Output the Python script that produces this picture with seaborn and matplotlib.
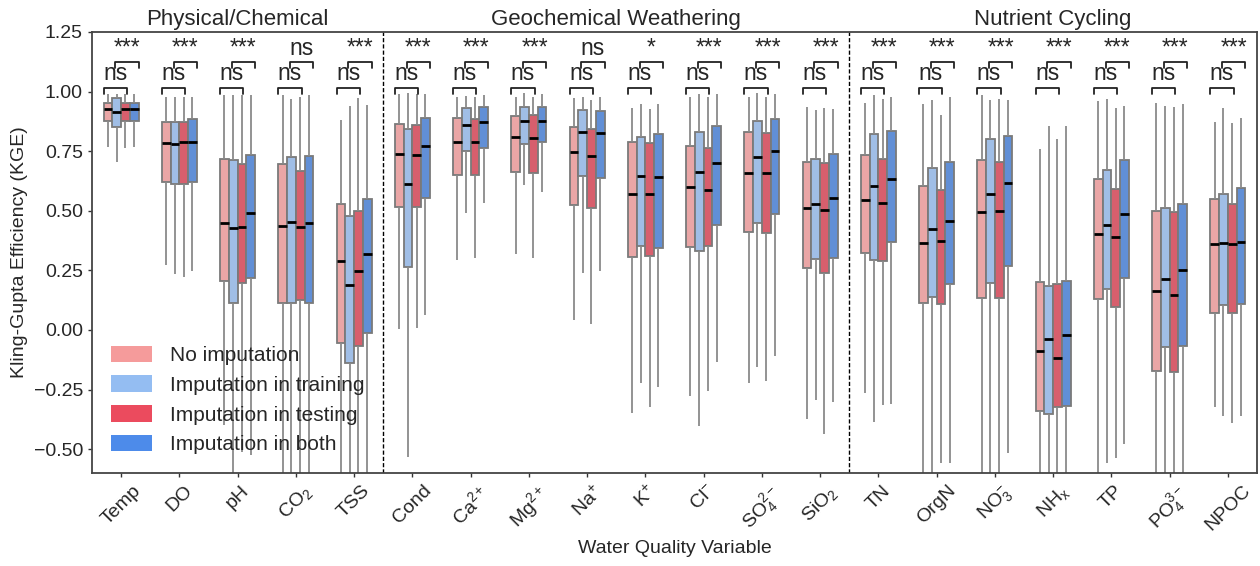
import numpy as np
import pandas as pd
import matplotlib
matplotlib.use("Agg")
import matplotlib.pyplot as plt
from matplotlib.patches import Patch
import seaborn as sns

VARIABLES = ["Temp", "DO", "pH", "CO$_2$", "TSS",
             "Cond", "Ca$^{2+}$", "Mg$^{2+}$", "Na$^{+}$", "K$^{+}$", "Cl$^{-}$", "SO$_4^{2-}$", "SiO$_2$",
             "TN", "OrgN", "NO$_3^{-}$", "NH$_x$", "TP", "PO$_4^{3-}$", "NPOC"]
METHODS = ["No imputation", "Imputation in training", "Imputation in testing", "Imputation in both"]
GROUPS = ["Physical/Chemical", "Geochemical Weathering", "Nutrient Cycling"]
GROUP_SIZES = [5, 8, 7]
COLORS = ["#F59B9B", "#94BDF2", "#EB4B5E", "#4D8BEA"]

# --- box statistics per method: whisker low, q1, median, q3, whisker high ---
NOIMP_LO  = [0.769, 0.273, -0.40, -0.70, -0.70, 0.005, 0.294, 0.317, 0.042, -0.349, -0.277, -0.221, -0.375, -0.266, -0.70, -0.70, -0.70, -0.70, -0.70, -0.324]
NOIMP_Q1  = [0.878, 0.622, 0.206, 0.114, -0.053, 0.516, 0.650, 0.664, 0.524, 0.307, 0.349, 0.410, 0.260, 0.323, 0.115, 0.136, -0.340, 0.130, -0.172, 0.073]
NOIMP_MED = [0.928, 0.786, 0.447, 0.436, 0.291, 0.740, 0.790, 0.811, 0.748, 0.570, 0.601, 0.660, 0.513, 0.545, 0.366, 0.496, -0.087, 0.403, 0.165, 0.359]
NOIMP_Q3  = [0.951, 0.874, 0.716, 0.695, 0.529, 0.864, 0.888, 0.898, 0.853, 0.790, 0.772, 0.832, 0.703, 0.733, 0.605, 0.713, 0.203, 0.632, 0.499, 0.548]
NOIMP_HI  = [0.989, 0.979, 0.986, 0.986, 0.881, 0.989, 0.979, 0.979, 0.974, 0.930, 0.979, 0.979, 0.937, 0.953, 0.947, 0.986, 0.758, 0.962, 0.951, 0.871]

TRAIN_LO  = [0.706, 0.235, -0.70, -0.70, -0.70, -0.534, 0.489, 0.608, 0.240, -0.224, -0.401, -0.154, -0.294, -0.385, -0.70, -0.70, -0.70, -0.557, -0.70, -0.361]
TRAIN_Q1  = [0.850, 0.612, 0.114, 0.113, -0.137, 0.263, 0.751, 0.780, 0.646, 0.354, 0.333, 0.450, 0.298, 0.292, 0.140, 0.198, -0.352, 0.172, -0.073, 0.106]
TRAIN_MED = [0.916, 0.781, 0.426, 0.452, 0.187, 0.612, 0.860, 0.878, 0.829, 0.646, 0.664, 0.727, 0.530, 0.604, 0.424, 0.570, -0.039, 0.439, 0.213, 0.365]
TRAIN_Q3  = [0.975, 0.874, 0.713, 0.727, 0.478, 0.842, 0.930, 0.934, 0.923, 0.811, 0.829, 0.878, 0.716, 0.823, 0.678, 0.800, 0.185, 0.671, 0.510, 0.572]
TRAIN_HI  = [0.989, 0.979, 0.986, 0.969, 0.941, 0.993, 0.983, 0.993, 0.979, 0.948, 0.990, 0.993, 0.923, 0.986, 0.965, 0.965, 0.856, 0.968, 0.940, 0.930]

TEST_LO   = [0.762, 0.224, -0.51, -0.70, -0.70, 0.010, 0.303, 0.301, 0.025, -0.324, -0.255, -0.213, -0.438, -0.315, -0.557, -0.70, -0.70, -0.538, -0.70, -0.389]
TEST_Q1   = [0.875, 0.612, 0.198, 0.126, -0.067, 0.517, 0.649, 0.657, 0.510, 0.312, 0.352, 0.406, 0.240, 0.288, 0.110, 0.133, -0.324, 0.098, -0.175, 0.070]
TEST_MED  = [0.928, 0.789, 0.432, 0.431, 0.247, 0.736, 0.790, 0.807, 0.730, 0.570, 0.587, 0.660, 0.503, 0.534, 0.375, 0.500, -0.116, 0.391, 0.146, 0.359]
TEST_Q3   = [0.951, 0.871, 0.698, 0.668, 0.499, 0.860, 0.884, 0.902, 0.842, 0.783, 0.763, 0.825, 0.702, 0.716, 0.586, 0.706, 0.192, 0.593, 0.496, 0.527]
TEST_HI   = [0.989, 0.979, 0.986, 0.979, 0.974, 0.989, 0.979, 0.979, 0.965, 0.926, 0.979, 0.979, 0.930, 0.969, 0.902, 0.969, 0.800, 0.930, 0.937, 0.867]

BOTH_LO   = [0.769, 0.249, -0.524, -0.70, -0.70, 0.063, 0.534, 0.580, 0.249, -0.238, -0.133, -0.108, -0.301, -0.310, -0.559, -0.515, -0.70, -0.478, -0.70, -0.361]
BOTH_Q1   = [0.875, 0.622, 0.219, 0.114, -0.013, 0.555, 0.765, 0.790, 0.639, 0.345, 0.440, 0.485, 0.303, 0.370, 0.193, 0.270, -0.319, 0.218, -0.066, 0.108]
BOTH_MED  = [0.928, 0.789, 0.490, 0.447, 0.320, 0.773, 0.871, 0.878, 0.828, 0.643, 0.702, 0.751, 0.552, 0.632, 0.459, 0.618, -0.021, 0.487, 0.252, 0.370]
BOTH_Q3   = [0.951, 0.884, 0.733, 0.730, 0.548, 0.888, 0.934, 0.937, 0.920, 0.821, 0.856, 0.884, 0.737, 0.833, 0.703, 0.814, 0.206, 0.714, 0.527, 0.597]
BOTH_HI   = [0.989, 0.979, 0.986, 0.986, 0.944, 0.989, 0.986, 0.989, 0.979, 0.946, 0.989, 0.989, 0.926, 0.979, 0.976, 0.965, 0.856, 0.940, 0.947, 0.888]

LOWER_SIG = ["ns"] * 20
UPPER_SIG = ["***", "***", "***", "ns", "***",
             "***", "***", "***", "ns", "*", "***", "***", "***",
             "***", "***", "***", "***", "***", "***", "***"]

STATS = {
    METHODS[0]: [NOIMP_LO, NOIMP_Q1, NOIMP_MED, NOIMP_Q3, NOIMP_HI],
    METHODS[1]: [TRAIN_LO, TRAIN_Q1, TRAIN_MED, TRAIN_Q3, TRAIN_HI],
    METHODS[2]: [TEST_LO, TEST_Q1, TEST_MED, TEST_Q3, TEST_HI],
    METHODS[3]: [BOTH_LO, BOTH_Q1, BOTH_MED, BOTH_Q3, BOTH_HI],
}

rows = []
for m in METHODS:
    for i, v in enumerate(VARIABLES):
        for s in STATS[m]:
            rows.append({"Variable": v, "Method": m, "KGE": s[i]})
df = pd.DataFrame(rows)

sns.set_theme(style="white")
plt.rcParams["font.family"] = ["Liberation Sans", "DejaVu Sans"]
plt.rcParams["mathtext.default"] = "regular"
plt.rcParams["mathtext.fontset"] = "custom"
plt.rcParams["mathtext.rm"] = "Liberation Sans"
plt.rcParams["mathtext.it"] = "Liberation Sans"

fig = plt.figure(figsize=(12.6, 5.66), dpi=100)
ax = fig.add_axes([0.073, 0.1643, 0.9246, 0.7792])

sns.boxplot(data=df, x="Variable", y="KGE", hue="Method", order=VARIABLES, hue_order=METHODS,
            palette=COLORS, saturation=0.75, whis=(0, 100), showcaps=False, showfliers=False,
            width=0.6, gap=0, linewidth=1.3, linecolor="#7a7a7a",
            medianprops=dict(color="black", linewidth=2.0),
            whiskerprops=dict(color="#8a8a8a", linewidth=1.3),
            legend=False, ax=ax)

ax.set_xlim(-0.5, len(VARIABLES) - 0.5)
ax.set_ylim(-0.60, 1.25)
ax.set_yticks([-0.5, -0.25, 0.0, 0.25, 0.5, 0.75, 1.0, 1.25])
ax.tick_params(axis="both", labelsize=14, length=3, width=1, color="#333333", direction="out", bottom=True, left=True)
plt.setp(ax.get_xticklabels(), rotation=45)
ax.set_xlabel("Water Quality Variable", fontsize=14)
ax.set_ylabel("Kling-Gupta Efficiency (KGE)", fontsize=14)

for sp in ax.spines.values():
    sp.set_linestyle((0, (3, 1)))
    sp.set_color("#444444")
    sp.set_linewidth(1.3)

# group dividers and titles
start = 0
for g, n in zip(GROUPS, GROUP_SIZES):
    center = start + (n - 1) / 2
    ax.text(center, 1.258, g, ha="center", va="bottom", fontsize=16)
    if start + n < len(VARIABLES):
        ax.axvline(start + n - 0.5, color="black", linestyle=(0, (3, 1.5)), linewidth=1.0)
    start += n

# significance brackets
for i in range(len(VARIABLES)):
    # lower bracket: no imputation vs imputation in testing
    x0, x1 = i - 0.30, i + 0.10
    yb, yt = 0.99, 1.015
    ax.plot([x0, x0, x1, x1], [yb, yt, yt, yb], color="#222222", linewidth=1.3)
    ax.text((x0 + x1) / 2, yt + 0.012, LOWER_SIG[i], ha="center", va="bottom", fontsize=16.5)
    # upper bracket: imputation in training vs imputation in both
    x0, x1 = i - 0.10, i + 0.30
    yb, yt = 1.097, 1.122
    ax.plot([x0, x0, x1, x1], [yb, yt, yt, yb], color="#222222", linewidth=1.3)
    ax.text((x0 + x1) / 2, yt + 0.012, UPPER_SIG[i], ha="center", va="bottom", fontsize=16.5)

handles = [Patch(facecolor=c, edgecolor="none", label=m) for c, m in zip(COLORS, METHODS)]
ax.legend(handles=handles, loc="lower left", bbox_to_anchor=(0.0, 0.0), frameon=False,
          fontsize=15, handlelength=2.0, handleheight=0.85, labelspacing=0.49, handletextpad=0.85)

fig.savefig("out.png", dpi=100)
